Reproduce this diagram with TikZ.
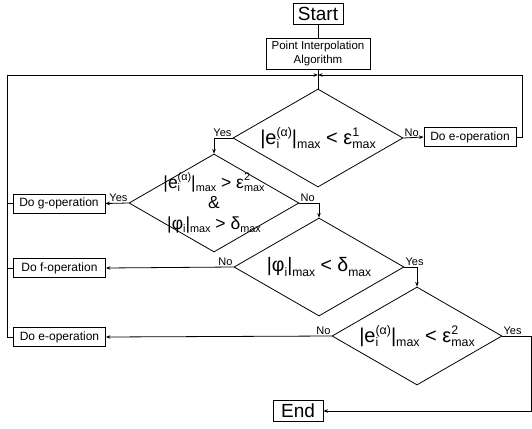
\documentclass[tikz,border=0pt]{standalone}
\usepackage{fontspec}
\setmainfont{Liberation Sans}
\usetikzlibrary{shapes.geometric,arrows.meta}
\makeatletter
\newcommand{\mysup}[1]{\raisebox{0.42em}{\fontsize{\fpeval{0.62*\f@size}}{0}\selectfont #1}}
\newcommand{\mysub}[1]{\raisebox{-0.22em}{\fontsize{\fpeval{0.62*\f@size}}{0}\selectfont #1}}
\makeatother
\newcommand{\stk}[2]{\setbox0\hbox{\mysup{#1}}\setbox2\hbox{\mysub{#2}}\ifdim\wd0>\wd2 \rlap{\box2}\box0\else\rlap{\box0}\box2\fi}
\begin{document}
\begin{tikzpicture}[x=1pt,y=-1pt, line width=0.8pt,
  >={Stealth[length=4.5pt,width=3.5pt]},
  box/.style={draw, inner sep=0pt, align=center},
  opbox/.style={box, minimum width=92pt, minimum height=19pt, font=\fontsize{12}{14}\selectfont},
  dia/.style={draw, shape=diamond, aspect=1.73, minimum width=170pt, minimum height=98pt, inner sep=0pt},
  dtext/.style={inner sep=0pt, align=center, font=\fontsize{20}{22}\selectfont},
  lbl/.style={font=\fontsize{11}{12}\selectfont, inner sep=0.8pt}]
\useasboundingbox (0,0) rectangle (532,428);
\node[box, minimum width=50pt, minimum height=21pt, font=\fontsize{19}{20}\selectfont] (start) at (318,13.5) {Start};
\node[box, minimum width=104pt, minimum height=31pt, font=\fontsize{11.5}{13.5}\selectfont] (pia) at (318,53.5) {Point Interpolation\\Algorithm};
\coordinate (j) at (318,75);
\coordinate (l1) at (7,0);
\coordinate (r1) at (522,0);
\coordinate (r2) at (531,0);
\node[dia] (d1) at (318,138) {};
\node[dtext] (t1) at (d1) {|e\stk{(α)}{i}|\mysub{max} < ε\stk{1}{max}};
\node[dia] (d2) at (214,203) {};
\node[dtext, font=\fontsize{17.5}{20.5}\selectfont] (t2) at (d2) {|e\stk{(α)}{i}|\mysub{max} > ε\stk{2}{max}\\\&\\|φ\mysub{i}|\mysub{max} > δ\mysub{max}};
\node[dia] (d3) at (319,267) {};
\node[dtext, font=\fontsize{19.5}{21}\selectfont] (t3) at (d3) {|φ\mysub{i}|\mysub{max} < δ\mysub{max}};
\node[dia] (d4) at (417,336) {};
\node[dtext] (t4) at (d4) {|e\stk{(α)}{i}|\mysub{max} < ε\stk{2}{max}};
\node[opbox] (doe1) at (470,137) {Do e-operation};
\node[opbox] (dog) at (59,203.5) {Do g-operation};
\node[opbox] (dof) at (59.5,268) {Do f-operation};
\node[opbox] (doe2) at (59.5,337) {Do e-operation};
\node[box, minimum width=50pt, minimum height=21pt, font=\fontsize{19}{20}\selectfont] (end) at (298,411) {End};
\draw (start) -- (pia);
\draw (pia) -- (d1);
\draw[->] (d1.east) -- node[lbl,pos=0,anchor=south west]{No} (doe1.west);
\draw[->] (doe1.east) -- (doe1.east -| r1) -- (j -| r1) -- (j);
\draw[->] (d1.west) -- node[lbl,pos=0,anchor=south east]{Yes} (d1.west -| d2.north) -- (d2.north);
\draw[->] (d2.west) -- node[lbl,pos=0,anchor=south east]{Yes} (dog.east);
\draw[->] (d2.east) -- node[lbl,pos=0,anchor=south west]{No} (d2.east -| d3.north) -- (d3.north);
\draw[->] (d3.west) -- node[lbl,pos=0,anchor=south east]{No} (dof.east);
\draw[->] (d3.east) -- node[lbl,pos=0,anchor=south west]{Yes} (d3.east -| d4.north) -- (d4.north);
\draw[->] (d4.west) -- node[lbl,pos=0,anchor=south east]{No} (doe2.east);
\draw[->] (d4.east) -- node[lbl,pos=0,anchor=south west]{Yes} (d4.east -| r2) -- (end.east -| r2) -- (end.east);
\draw (dog.west) -- (dog.west -| l1);
\draw (dof.west) -- (dof.west -| l1);
\draw[->] (doe2.west) -- (doe2.west -| l1) -- (j -| l1) -- (j);
\end{tikzpicture}
\end{document}
